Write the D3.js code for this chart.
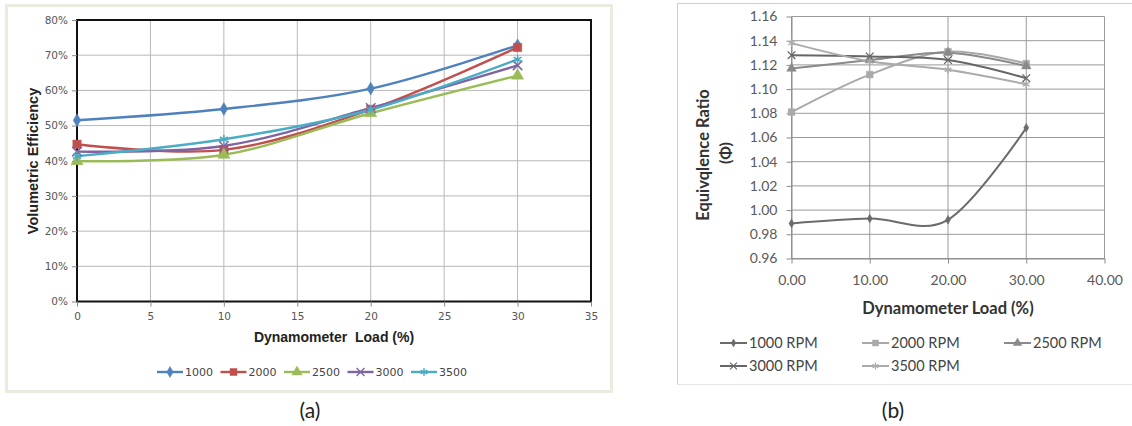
<!DOCTYPE html>
<html>
<head>
<meta charset="utf-8">
<script src="https://cdn.jsdelivr.net/npm/d3@7"></script>
<style>
  body { margin: 0; background: #fff; }
  svg { display: block; }
</style>
</head>
<body>
<svg width="1132" height="426"></svg>
<script>
// ---- chart (a): volumetric efficiency ----
const loadsA = [0, 10, 20, 30];
const seriesA = ["1000", "2000", "2500", "3000", "3500"];
const ve1000 = [51.5, 54.7, 60.5, 72.8];
const ve2000 = [44.7, 43.1, 54.6, 72.2];
const ve2500 = [39.9, 41.7, 53.5, 64.2];
const ve3000 = [42.6, 44.2, 55.0, 67.1];
const ve3500 = [41.3, 46.1, 54.5, 68.8];
const xTicksA = [0, 5, 10, 15, 20, 25, 30, 35];
const yTicksA = [0, 10, 20, 30, 40, 50, 60, 70, 80];

// ---- chart (b): equivalence ratio ----
const loadsB = [0, 10, 20, 30];
const seriesB = ["1000 RPM", "2000 RPM", "2500 RPM", "3000 RPM", "3500 RPM"];
const phi1000 = [0.989, 0.993, 0.992, 1.068];
const phi2000 = [1.081, 1.112, 1.131, 1.121];
const phi2500 = [1.117, 1.124, 1.130, 1.119];
const phi3000 = [1.128, 1.127, 1.124, 1.109];
const phi3500 = [1.138, 1.123, 1.116, 1.104];
const xTicksB = [0, 10, 20, 30, 40];
const yTicksB = [0.96, 0.98, 1.00, 1.02, 1.04, 1.06, 1.08, 1.10, 1.12, 1.14, 1.16];

const svg = d3.select("svg");

const symA = [d3.symbolDiamond, d3.symbolSquare, d3.symbolTriangle, d3.symbolTimes || d3.symbolCross, d3.symbolAsterisk || d3.symbolCross];
const strokeSym = [false, false, false, true, true];

// ================= (a) =================
const colA = ["#4f81bd", "#c0504d", "#9bbb59", "#8064a2", "#4bacc6"];
const valsA = [ve1000, ve2000, ve2500, ve3000, ve3500];
const sizeA = [48, 70, 65, 60, 60];

svg.append("rect").attr("x", 6.5).attr("y", 5.5).attr("width", 605).attr("height", 386)
  .attr("fill", "#fff").attr("stroke", "#ecebe0").attr("stroke-width", 3);

const gA = svg.append("g");
const xA = d3.scaleLinear().domain([0, 35]).range([77, 591]);
const yA = d3.scaleLinear().domain([0, 80]).range([301.5, 20]);

// grid
gA.selectAll(".vg").data(xTicksA).enter().append("line")
  .attr("x1", d => xA(d)).attr("x2", d => xA(d)).attr("y1", yA(80)).attr("y2", yA(0))
  .attr("stroke", "#b8b8b8").attr("stroke-width", 1);
gA.selectAll(".hg").data(yTicksA).enter().append("line")
  .attr("x1", xA(0)).attr("x2", xA(35)).attr("y1", d => yA(d)).attr("y2", d => yA(d))
  .attr("stroke", "#b8b8b8").attr("stroke-width", 1);

gA.append("rect").attr("x", xA(0)).attr("y", yA(80)).attr("width", xA(35) - xA(0)).attr("height", yA(0) - yA(80))
  .attr("fill", "none").attr("stroke", "#111").attr("stroke-width", 2);

const axA = gA.append("g").attr("transform", "translate(0," + yA(0) + ")")
  .call(d3.axisBottom(xA).tickValues(xTicksA).tickSize(5).tickSizeOuter(0).tickPadding(6));
const ayA = gA.append("g").attr("transform", "translate(" + xA(0) + ",0)")
  .call(d3.axisLeft(yA).tickValues(yTicksA).tickSize(5).tickSizeOuter(0).tickPadding(4).tickFormat(d => d + "%"));
[axA, ayA].forEach(a => {
  a.select(".domain").remove();
  a.selectAll("line").attr("stroke", "#888");
  a.selectAll("text").attr("fill", "#555").style("font-family", "DejaVu Sans").style("font-size", "10.5px");
});

const lineA = d3.line().x((d, i) => xA(loadsA[i])).y(d => yA(d)).curve(d3.curveCatmullRom.alpha(0));
valsA.forEach((v, k) => {
  gA.append("path").datum(v).attr("d", lineA).attr("fill", "none")
    .attr("stroke", colA[k]).attr("stroke-width", 2.4);
});
valsA.forEach((v, k) => {
  gA.selectAll(".m" + k).data(v).enter().append("path")
    .attr("transform", (d, i) => "translate(" + xA(loadsA[i]) + "," + yA(d) + ")")
    .attr("d", d3.symbol().type(symA[k]).size(sizeA[k]))
    .attr("fill", strokeSym[k] ? "none" : colA[k])
    .attr("stroke", colA[k]).attr("stroke-width", strokeSym[k] ? 1.6 : 0.5);
});

svg.append("text").attr("x", 334).attr("y", 342).attr("text-anchor", "middle")
  .style("font-family", "Liberation Sans").style("font-weight", "bold").style("font-size", "14px")
  .attr("fill", "#222").attr("xml:space", "preserve").text("Dynamometer  Load (%)");
svg.append("text").attr("transform", "translate(38,161) rotate(-90)").attr("text-anchor", "middle")
  .style("font-family", "Liberation Sans").style("font-weight", "bold").style("font-size", "14.5px")
  .attr("fill", "#222").text("Volumetric Efficiency");

// legend (a)
const legA = svg.append("g").attr("transform", "translate(157,372)");
seriesA.forEach((s, k) => {
  const g = legA.append("g").attr("transform", "translate(" + (k * 63.5) + ",0)");
  g.append("line").attr("x1", 0).attr("x2", 26).attr("y1", 0).attr("y2", 0)
    .attr("stroke", colA[k]).attr("stroke-width", 2.4);
  g.append("path").attr("transform", "translate(13,0)")
    .attr("d", d3.symbol().type(symA[k]).size(sizeA[k] * 0.7))
    .attr("fill", strokeSym[k] ? "none" : colA[k]).attr("stroke", colA[k]).attr("stroke-width", strokeSym[k] ? 1.4 : 0.5);
  g.append("text").attr("x", 28).attr("y", 4).text(s)
    .style("font-family", "DejaVu Sans").style("font-size", "11px").attr("fill", "#444");
});

// ================= (b) =================
const colB = ["#6b6b6b", "#a9a9a9", "#8a8a8a", "#666666", "#ababab"];
const valsB = [phi1000, phi2000, phi2500, phi3000, phi3500];
const sizeB = [22, 45, 40, 40, 40];

svg.append("line").attr("x1", 677.5).attr("x2", 677.5).attr("y1", 3).attr("y2", 384)
  .attr("stroke", "#cfcfcf").attr("stroke-width", 1);
svg.append("line").attr("x1", 677).attr("x2", 1132).attr("y1", 3.5).attr("y2", 3.5)
  .attr("stroke", "#cfcfcf").attr("stroke-width", 1);
svg.append("line").attr("x1", 677).attr("x2", 1132).attr("y1", 384.5).attr("y2", 384.5)
  .attr("stroke", "#e6e6e6").attr("stroke-width", 1);

const gB = svg.append("g");
const xB = d3.scaleLinear().domain([0, 40]).range([791.5, 1104.5]);
const yB = d3.scaleLinear().domain([0.96, 1.16]).range([258.5, 16.5]);

gB.selectAll(".vg").data(xTicksB).enter().append("line")
  .attr("x1", d => xB(d)).attr("x2", d => xB(d)).attr("y1", yB(1.16)).attr("y2", yB(0.96))
  .attr("stroke", "#9a9a9a").attr("stroke-width", 1);
gB.selectAll(".hg").data(yTicksB).enter().append("line")
  .attr("x1", xB(0)).attr("x2", xB(40)).attr("y1", d => yB(d)).attr("y2", d => yB(d))
  .attr("stroke", "#9a9a9a").attr("stroke-width", 1);

const axB = gB.append("g").attr("transform", "translate(0," + yB(0.96) + ")")
  .call(d3.axisBottom(xB).tickValues(xTicksB).tickSize(5).tickSizeOuter(0).tickPadding(12).tickFormat(d3.format(".2f")));
const ayB = gB.append("g").attr("transform", "translate(" + xB(0) + ",0)")
  .call(d3.axisLeft(yB).tickValues(yTicksB).tickSize(5).tickSizeOuter(0).tickPadding(9).tickFormat(d3.format(".2f")));
[axB, ayB].forEach(a => {
  a.select(".domain").attr("stroke", "#8a8a8a");
  a.selectAll("line").attr("stroke", "#8a8a8a");
  a.selectAll("text").attr("fill", "#595959").style("font-family", "Lato").style("font-size", "14px");
});

const lineB = d3.line().x((d, i) => xB(loadsB[i])).y(d => yB(d)).curve(d3.curveCatmullRom.alpha(0));
valsB.forEach((v, k) => {
  gB.append("path").datum(v).attr("d", lineB).attr("fill", "none")
    .attr("stroke", colB[k]).attr("stroke-width", 2);
});
valsB.forEach((v, k) => {
  gB.selectAll(".m" + k).data(v).enter().append("path")
    .attr("transform", (d, i) => "translate(" + xB(loadsB[i]) + "," + yB(d) + ")")
    .attr("d", d3.symbol().type(symA[k]).size(sizeB[k]))
    .attr("fill", strokeSym[k] ? "none" : colB[k])
    .attr("stroke", colB[k]).attr("stroke-width", strokeSym[k] ? 1.3 : 0.5);
});

svg.append("text").attr("x", 948).attr("y", 314).attr("text-anchor", "middle")
  .style("font-family", "Lato").style("font-weight", "bold").style("font-size", "16.5px")
  .attr("fill", "#333").text("Dynamometer Load (%)");
svg.append("text").attr("transform", "translate(709,155) rotate(-90)").attr("text-anchor", "middle")
  .style("font-family", "Lato").style("font-weight", "bold").style("font-size", "16.5px")
  .attr("fill", "#333").text("Equivqlence Ratio");
svg.append("text").attr("transform", "translate(731,153) rotate(-90)").attr("text-anchor", "middle")
  .style("font-family", "Lato").style("font-weight", "bold").style("font-size", "16px")
  .attr("fill", "#333").text("(\u03A6)");

// legend (b)
const legB = svg.append("g");
seriesB.forEach((s, k) => {
  const col = k % 3, row = Math.floor(k / 3);
  const g = legB.append("g").attr("transform", "translate(" + (720 + col * 142) + "," + (343 + row * 23) + ")");
  g.append("line").attr("x1", 0).attr("x2", 27).attr("y1", 0).attr("y2", 0)
    .attr("stroke", colB[k]).attr("stroke-width", 2);
  g.append("path").attr("transform", "translate(13.5,0)")
    .attr("d", d3.symbol().type(symA[k]).size(sizeB[k] * 0.8))
    .attr("fill", strokeSym[k] ? "none" : colB[k]).attr("stroke", colB[k]).attr("stroke-width", strokeSym[k] ? 1.2 : 0.5);
  g.append("text").attr("x", 29).attr("y", 5).text(s)
    .style("font-family", "Lato").style("font-size", "14.5px").attr("fill", "#444");
});

// captions
svg.append("text").attr("x", 310).attr("y", 418).attr("text-anchor", "middle")
  .style("font-family", "Lato").style("font-size", "21px").attr("fill", "#222").text("(a)");
svg.append("text").attr("x", 893).attr("y", 418).attr("text-anchor", "middle")
  .style("font-family", "Lato").style("font-size", "21px").attr("fill", "#222").text("(b)");
</script>
</body>
</html>
